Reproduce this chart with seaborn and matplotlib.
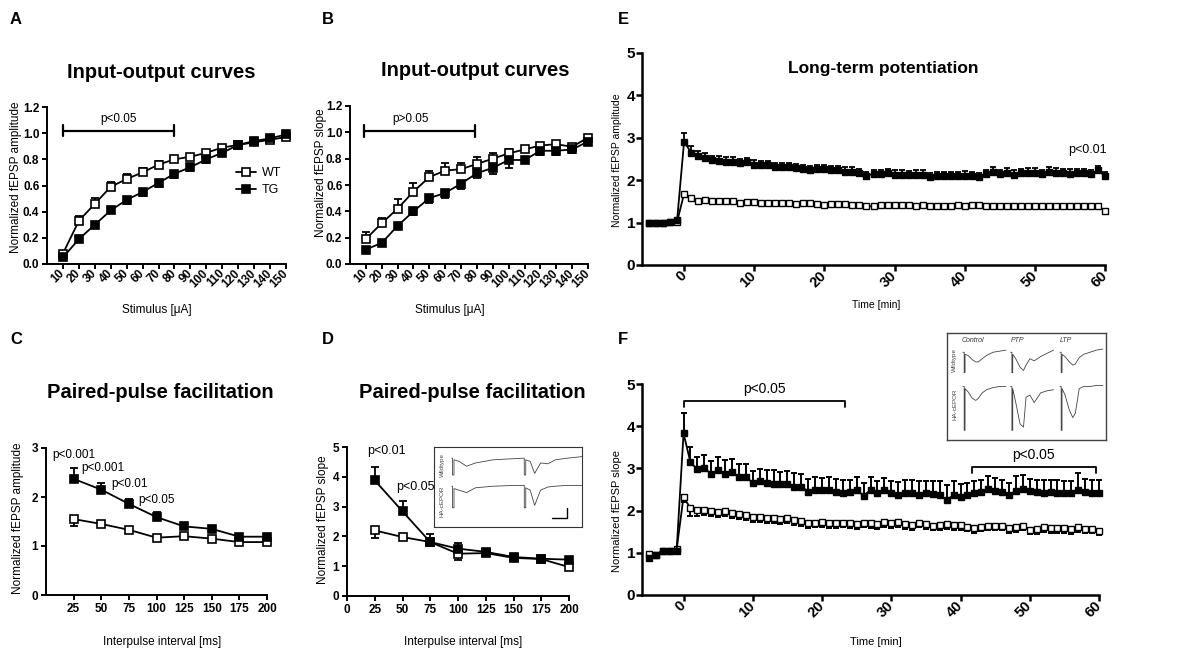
import matplotlib
matplotlib.use("Agg")
import matplotlib.pyplot as plt
import seaborn as sns

# ---------------- data ----------------
stimulus = [10, 20, 30, 40, 50, 60, 70, 80, 90, 100, 110, 120, 130, 140, 150]
a_wt = [0.08, 0.33, 0.46, 0.59, 0.65, 0.70, 0.76, 0.80, 0.82, 0.85, 0.89, 0.91, 0.93, 0.95, 0.97]
a_wt_err = [0.02, 0.04, 0.045, 0.04, 0.035, 0.03, 0.025, 0.02, 0.02, 0.02, 0.02, 0.02, 0.02, 0.01, 0.01]
a_tg = [0.05, 0.19, 0.30, 0.41, 0.49, 0.55, 0.62, 0.69, 0.74, 0.80, 0.85, 0.91, 0.94, 0.96, 0.99]
a_tg_err = [0.01, 0.01, 0.01, 0.02, 0.03, 0.03, 0.03, 0.03, 0.03, 0.03, 0.02, 0.02, 0.01, 0.01, 0.01]

b_wt = [0.19, 0.31, 0.42, 0.55, 0.66, 0.71, 0.72, 0.76, 0.80, 0.84, 0.87, 0.90, 0.91, 0.89, 0.96]
b_wt_err = [0.05, 0.04, 0.07, 0.065, 0.05, 0.06, 0.05, 0.05, 0.04, 0.03, 0.02, 0.02, 0.02, 0.02, 0.01]
b_tg = [0.11, 0.16, 0.29, 0.40, 0.50, 0.54, 0.61, 0.69, 0.73, 0.79, 0.79, 0.86, 0.86, 0.87, 0.93]
b_tg_err = [0.03, 0.02, 0.02, 0.03, 0.04, 0.04, 0.04, 0.04, 0.05, 0.06, 0.02, 0.03, 0.03, 0.03, 0.02]

interval = [25, 50, 75, 100, 125, 150, 175, 200]
c_tg = [2.37, 2.15, 1.86, 1.59, 1.40, 1.35, 1.19, 1.19]
c_tg_err = [0.23, 0.14, 0.10, 0.10, 0.05, 0.04, 0.03, 0.03]
c_wt = [1.55, 1.45, 1.33, 1.17, 1.20, 1.15, 1.08, 1.08]
c_wt_err = [0.15, 0.04, 0.04, 0.04, 0.03, 0.03, 0.03, 0.03]

d_tg = [3.88, 2.84, 1.81, 1.59, 1.48, 1.31, 1.25, 1.22]
d_tg_err = [0.45, 0.35, 0.27, 0.18, 0.05, 0.05, 0.05, 0.04]
d_wt = [2.20, 1.98, 1.81, 1.42, 1.44, 1.28, 1.24, 0.97]
d_wt_err = [0.25, 0.06, 0.05, 0.20, 0.05, 0.05, 0.04, 0.05]

time_min = list(range(-5, 61))
e_tg = [1.00, 1.00, 1.00, 1.02, 1.05,
        2.91, 2.65, 2.57, 2.52, 2.48, 2.46, 2.44, 2.44, 2.40, 2.42,
        2.36, 2.36, 2.35, 2.30, 2.30, 2.30, 2.28, 2.26, 2.24, 2.26,
        2.26, 2.24, 2.23, 2.20, 2.20, 2.17, 2.11, 2.15, 2.15, 2.17,
        2.13, 2.13, 2.13, 2.13, 2.13, 2.07, 2.10, 2.09, 2.09, 2.10,
        2.10, 2.10, 2.07, 2.15, 2.20, 2.15, 2.18, 2.13, 2.17, 2.18,
        2.17, 2.15, 2.20, 2.18, 2.17, 2.15, 2.17, 2.17, 2.15, 2.23,
        2.10]
e_tg_err = [0.02, 0.02, 0.02, 0.02, 0.03,
            0.20, 0.15, 0.12, 0.11, 0.10, 0.10, 0.11, 0.10, 0.11, 0.10,
            0.11, 0.10, 0.10, 0.11, 0.10, 0.10, 0.10, 0.09, 0.10, 0.10,
            0.09, 0.10, 0.10, 0.10, 0.12, 0.10, 0.09, 0.10, 0.10, 0.09,
            0.10, 0.10, 0.09, 0.10, 0.10, 0.11, 0.10, 0.10, 0.10, 0.10,
            0.11, 0.10, 0.11, 0.10, 0.12, 0.10, 0.10, 0.10, 0.10, 0.10,
            0.11, 0.10, 0.11, 0.10, 0.10, 0.11, 0.10, 0.10, 0.10, 0.11,
            0.10]
e_wt = [1.00, 1.00, 1.00, 1.02, 1.02,
        1.68, 1.58, 1.51, 1.54, 1.50, 1.50, 1.51, 1.50, 1.47, 1.49,
        1.48, 1.46, 1.46, 1.46, 1.46, 1.46, 1.44, 1.46, 1.46, 1.44,
        1.42, 1.43, 1.44, 1.44, 1.42, 1.42, 1.38, 1.39, 1.42, 1.41,
        1.41, 1.41, 1.41, 1.40, 1.41, 1.40, 1.40, 1.40, 1.40, 1.41,
        1.40, 1.41, 1.42, 1.40, 1.40, 1.40, 1.39, 1.40, 1.40, 1.40,
        1.39, 1.39, 1.40, 1.39, 1.39, 1.38, 1.38, 1.38, 1.39, 1.39,
        1.27]
e_wt_err = [0.02, 0.02, 0.02, 0.02, 0.02,
            0.05, 0.05, 0.04, 0.04, 0.04, 0.04, 0.04, 0.04, 0.04, 0.04,
            0.04, 0.04, 0.04, 0.04, 0.03, 0.04, 0.04, 0.04, 0.04, 0.04,
            0.04, 0.04, 0.04, 0.04, 0.04, 0.04, 0.05, 0.04, 0.04, 0.04,
            0.04, 0.04, 0.04, 0.04, 0.03, 0.04, 0.04, 0.04, 0.04, 0.04,
            0.04, 0.04, 0.04, 0.04, 0.04, 0.04, 0.04, 0.03, 0.04, 0.04,
            0.04, 0.04, 0.04, 0.04, 0.04, 0.04, 0.04, 0.04, 0.04, 0.04,
            0.05]

f_tg = [0.88, 0.95, 1.05, 1.05, 1.05,
        3.83, 3.14, 2.98, 3.00, 2.87, 2.96, 2.87, 2.92, 2.80, 2.79,
        2.66, 2.69, 2.66, 2.64, 2.62, 2.64, 2.57, 2.57, 2.45, 2.49,
        2.49, 2.49, 2.43, 2.41, 2.43, 2.49, 2.35, 2.49, 2.41, 2.49,
        2.41, 2.37, 2.42, 2.41, 2.37, 2.41, 2.40, 2.37, 2.25, 2.37,
        2.33, 2.37, 2.41, 2.43, 2.51, 2.47, 2.43, 2.37, 2.47, 2.51,
        2.47, 2.43, 2.42, 2.43, 2.41, 2.41, 2.41, 2.49, 2.43, 2.42,
        2.42]
f_tg_err = [0.03, 0.03, 0.03, 0.03, 0.03,
            0.48, 0.37, 0.28, 0.31, 0.30, 0.30, 0.32, 0.30, 0.30, 0.31,
            0.28, 0.30, 0.31, 0.32, 0.30, 0.30, 0.33, 0.30, 0.31, 0.30,
            0.29, 0.30, 0.33, 0.31, 0.30, 0.30, 0.31, 0.30, 0.30, 0.29,
            0.30, 0.31, 0.30, 0.31, 0.32, 0.30, 0.31, 0.32, 0.36, 0.33,
            0.30, 0.29, 0.30, 0.30, 0.32, 0.31, 0.30, 0.29, 0.35, 0.33,
            0.29, 0.30, 0.31, 0.30, 0.31, 0.30, 0.30, 0.39, 0.31, 0.30,
            0.30]
f_wt = [0.97, 0.95, 1.05, 1.05, 1.08,
        2.33, 2.05, 2.01, 2.01, 2.00, 1.97, 2.00, 1.95, 1.91, 1.89,
        1.86, 1.84, 1.82, 1.82, 1.80, 1.82, 1.78, 1.75, 1.71, 1.71,
        1.73, 1.70, 1.71, 1.71, 1.70, 1.68, 1.71, 1.70, 1.68, 1.73,
        1.70, 1.73, 1.68, 1.66, 1.71, 1.68, 1.64, 1.66, 1.68, 1.66,
        1.66, 1.62, 1.58, 1.62, 1.64, 1.64, 1.64, 1.58, 1.60, 1.64,
        1.54, 1.56, 1.60, 1.58, 1.58, 1.58, 1.56, 1.60, 1.56, 1.56,
        1.52]
f_wt_err = [0.05, 0.05, 0.05, 0.05, 0.05,
            0.13, 0.17, 0.13, 0.12, 0.12, 0.13, 0.12, 0.12, 0.12, 0.12,
            0.12, 0.11, 0.12, 0.12, 0.12, 0.12, 0.11, 0.12, 0.12, 0.11,
            0.12, 0.11, 0.12, 0.11, 0.12, 0.12, 0.11, 0.12, 0.11, 0.12,
            0.11, 0.12, 0.11, 0.12, 0.11, 0.11, 0.11, 0.12, 0.11, 0.11,
            0.11, 0.11, 0.11, 0.11, 0.10, 0.11, 0.11, 0.11, 0.11, 0.11,
            0.10, 0.11, 0.10, 0.11, 0.10, 0.10, 0.11, 0.10, 0.10, 0.10,
            0.10]

# significance annotations: (start, end, height)
a_sig = (10, 80, 1.02)
b_sig = (9, 78.5, 1.01)
f_sig = [(0, 23.3, 4.60), (41.7, 59.5, 3.03)]

# example traces for the insets (D: paired pulse, F: control / PTP / LTP)
d_trace_x = [0.12, 0.125, 0.125, 0.135, 0.135, 0.17, 0.22, 0.28, 0.40, 0.55, 0.605,
             0.61, 0.61, 0.62, 0.62, 0.65, 0.68, 0.72, 0.77, 0.82, 0.90, 1.0]
d_trace_wt = [0.86, 0.86, 0.65, 0.65, 0.84, 0.82, 0.76, 0.80, 0.84, 0.855, 0.86,
              0.86, 0.65, 0.65, 0.84, 0.82, 0.67, 0.80, 0.79, 0.84, 0.86, 0.88]
d_trace_ha = [0.51, 0.51, 0.24, 0.24, 0.48, 0.46, 0.43, 0.49, 0.51, 0.52, 0.52,
              0.52, 0.24, 0.24, 0.49, 0.46, 0.27, 0.46, 0.50, 0.51, 0.52, 0.52]
d_scale_x = [0.80, 0.90, 0.90]
d_scale_y = [0.11, 0.11, 0.24]

f_trace_t = [0.0, 0.03, 0.03, 0.05, 0.05, 0.12, 0.22, 0.30, 0.36, 0.45, 0.55, 0.70, 0.85, 1.0]
f_traces_wt = {
    "Control": [0, 0, -0.19, -0.19, -0.02, -0.03, -0.07, -0.09, -0.09, -0.06, -0.03, 0.0, 0.01, 0.02],
    "PTP": [0, 0, -0.19, -0.19, -0.02, -0.06, -0.14, -0.17, -0.12, -0.06, -0.08, -0.04, -0.01, 0.02],
    "LTP": [0, 0, -0.19, -0.19, -0.02, -0.04, -0.09, -0.12, -0.11, -0.05, -0.02, 0.0, 0.02, 0.03],
}
f_traces_ha = {
    "Control": [0, 0, -0.41, -0.41, -0.02, -0.05, -0.11, -0.13, -0.11, -0.06, -0.03, -0.01, 0.0, 0.0],
    "PTP": [0, 0, -0.41, -0.41, -0.02, -0.15, -0.35, -0.38, -0.10, -0.08, -0.15, -0.06, -0.04, -0.03],
    "LTP": [0, 0, -0.41, -0.41, -0.02, -0.08, -0.22, -0.29, -0.25, -0.02, 0.0, 0.0, 0.01, 0.01],
}

# ---------------- style ----------------
sns.set_theme(style="ticks", rc={
    "text.color": "black", "axes.labelcolor": "black", "axes.edgecolor": "black",
    "xtick.color": "black", "ytick.color": "black",
})
plt.rcParams["font.family"] = ["Liberation Sans", "DejaVu Sans"]

W, H = 1200, 661
fig = plt.figure(figsize=(12, 6.61), dpi=100)


def rect(l, t, r, b):
    return [l / W, 1 - b / H, (r - l) / W, (b - t) / H]


def ftext(px, py, s, **kw):
    fig.text(px / W, 1 - py / H, s, **kw)


def draw_series(ax, x, y, err, face, up, ms, mew, lw, cap, elw, label=None):
    zeros = [0] * len(err)
    yerr = [zeros, err] if up else [err, zeros]
    ax.errorbar(x, y, yerr=yerr, fmt="none", ecolor="black", elinewidth=elw,
                capsize=cap, capthick=elw, clip_on=False, zorder=2)
    sns.lineplot(x=x, y=y, ax=ax, color="black", linewidth=lw, marker="s",
                 markersize=ms, markerfacecolor=face, markeredgecolor="black",
                 markeredgewidth=mew, clip_on=False, zorder=3, label=label)


def style_axes(ax, xlim, ylim, xticks, xlabels, yticks, ylabels, spine_w, tick_len,
               xsize, ysize, rot, ypad=2):
    ax.set_xlim(*xlim)
    ax.set_ylim(*ylim)
    sns.despine(ax=ax)
    for s in ["left", "bottom"]:
        ax.spines[s].set_linewidth(spine_w)
    ax.tick_params(width=spine_w, length=tick_len, direction="out", pad=2)
    ax.tick_params(axis="y", pad=ypad)
    if rot:
        ax.set_xticks(xticks, labels=xlabels, fontsize=xsize, fontweight="bold",
                      rotation=45, ha="right", rotation_mode="anchor", va="center")
    else:
        ax.set_xticks(xticks, labels=xlabels, fontsize=xsize, fontweight="bold")
    ax.set_yticks(yticks, labels=ylabels, fontsize=ysize, fontweight="bold")
    ax.set_xlabel("")
    ax.set_ylabel("")
    if ax.get_legend() is not None:
        ax.get_legend().remove()


def set_labels(ax, box, xlab, xpos, ylab, ypos, size):
    l, t, r, b = box
    ax.set_xlabel(xlab, fontsize=size, va="center")
    ax.xaxis.set_label_coords((xpos[0] - l) / (r - l), (b - xpos[1]) / (b - t))
    ax.set_ylabel(ylab, fontsize=size, va="center")
    ax.yaxis.set_label_coords((ypos[0] - l) / (r - l), (b - ypos[1]) / (b - t))


def sig_bar(ax, x0, x1, y, d):
    ax.plot([x0, x1], [y, y], color="black", lw=1.6, clip_on=False)
    ax.plot([x0, x0], [y - d, y + d], color="black", lw=1.6, clip_on=False)
    ax.plot([x1, x1], [y - d, y + d], color="black", lw=1.6, clip_on=False)


# ---------------- panel A ----------------
box_a = (47, 107, 286, 264)
ax_a = fig.add_axes(rect(*box_a))
draw_series(ax_a, stimulus, a_wt, a_wt_err, "white", True, 5.5, 1.2, 1.3, 3, 1.3, label="WT")
draw_series(ax_a, stimulus, a_tg, a_tg_err, "black", False, 5.5, 1.2, 1.3, 3, 1.3, label="TG")
style_axes(ax_a, (0, 150), (0, 1.2), stimulus, [str(v) for v in stimulus],
           [0, 0.2, 0.4, 0.6, 0.8, 1.0, 1.2], ["0.0", "0.2", "0.4", "0.6", "0.8", "1.0", "1.2"],
           1.4, 3.5, 8.5, 8.5, True)
sig_bar(ax_a, a_sig[0], a_sig[1], a_sig[2], 0.045)
ax_a.text(45, 1.11, "p<0.05", fontsize=8.5, ha="center", va="center")
handles = [ln for ln in ax_a.lines if ln.get_label() in ("WT", "TG")]
ax_a.legend(handles=handles, labels=["WT", "TG"], loc="center left", bbox_to_anchor=(0.79, 0.525),
            frameon=False, fontsize=9, handlelength=1.6, handletextpad=0.5,
            borderpad=0, borderaxespad=0, labelspacing=0.4)
set_labels(ax_a, box_a, "Stimulus [μA]", (157, 310), "Normalized fEPSP amplitude", (16, 177), 8.5)

# ---------------- panel B ----------------
box_b = (350, 106, 588, 264)
ax_b = fig.add_axes(rect(*box_b))
draw_series(ax_b, stimulus, b_wt, b_wt_err, "white", True, 5.5, 1.2, 1.3, 3, 1.3)
draw_series(ax_b, stimulus, b_tg, b_tg_err, "black", False, 5.5, 1.2, 1.3, 3, 1.3)
style_axes(ax_b, (0, 150), (0, 1.2), stimulus, [str(v) for v in stimulus],
           [0, 0.2, 0.4, 0.6, 0.8, 1.0, 1.2], ["0.0", "0.2", "0.4", "0.6", "0.8", "1.0", "1.2"],
           1.4, 3.5, 8.5, 8.5, True)
sig_bar(ax_b, b_sig[0], b_sig[1], b_sig[2], 0.045)
ax_b.text(38, 1.10, "p>0.05", fontsize=8.5, ha="center", va="center")
set_labels(ax_b, box_b, "Stimulus [μA]", (450, 310), "Normalized fEPSP slope", (321, 173), 8.5)

# ---------------- panel C ----------------
box_c = (46, 448, 267, 595)
ax_c = fig.add_axes(rect(*box_c))
draw_series(ax_c, interval, c_wt, c_wt_err, "white", False, 6, 1.2, 1.3, 3, 1.3)
draw_series(ax_c, interval, c_tg, c_tg_err, "black", True, 6, 1.2, 1.3, 3, 1.3)
style_axes(ax_c, (0, 200), (0, 3), interval, [str(v) for v in interval],
           [0, 1, 2, 3], ["0", "1", "2", "3"], 1.4, 3.5, 8.5, 8.5, False)
for s, x, y in [("p<0.001", 5.4, 2.86), ("p<0.001", 31.7, 2.59),
                ("p<0.01", 58.8, 2.27), ("p<0.05", 83.3, 1.94)]:
    ax_c.text(x, y, s, fontsize=8.5, ha="left", va="center")
set_labels(ax_c, box_c, "Interpulse interval [ms]", (162, 642),
           "Normalized fEPSP amplitude", (18, 518), 8.5)

# ---------------- panel D ----------------
box_d = (347, 447, 569, 596)
ax_d = fig.add_axes(rect(*box_d))
draw_series(ax_d, interval, d_wt, d_wt_err, "white", False, 6, 1.2, 1.3, 3, 1.3)
draw_series(ax_d, interval, d_tg, d_tg_err, "black", True, 6, 1.2, 1.3, 3, 1.3)
d_xt = [0] + interval
style_axes(ax_d, (0, 200), (0, 5), d_xt, [str(v) for v in d_xt],
           [0, 1, 2, 3, 4, 5], ["0", "1", "2", "3", "4", "5"], 1.4, 3.5, 8.5, 8.5, False)
ax_d.text(18, 4.88, "p<0.01", fontsize=9, ha="left", va="center")
ax_d.text(44, 3.66, "p<0.05", fontsize=9, ha="left", va="center")
set_labels(ax_d, box_d, "Interpulse interval [ms]", (463, 642),
           "Normalized fEPSP slope", (323, 520), 8.5)

ins_d = fig.add_axes(rect(434, 447, 582, 527))
ins_d.set_xlim(0, 1)
ins_d.set_ylim(0, 1)
ins_d.set_xticks([])
ins_d.set_yticks([])
for s in ins_d.spines.values():
    s.set_linewidth(0.8)
    s.set_color("#333333")
ins_d.plot(d_trace_x, d_trace_wt, color="#444444", lw=0.6)
ins_d.plot(d_trace_x, d_trace_ha, color="#444444", lw=0.6)
ins_d.plot(d_scale_x, d_scale_y, color="black", lw=1.0)
ins_d.text(0.054, 0.775, "Wildtype", rotation=90, fontsize=4.5, ha="center", va="center", color="#444444")
ins_d.text(0.054, 0.325, "HA-cEPOR", rotation=90, fontsize=4.5, ha="center", va="center", color="#444444")

# ---------------- panel E ----------------
box_e = (642, 53, 1105, 265)
ax_e = fig.add_axes(rect(*box_e))
draw_series(ax_e, time_min, e_wt, e_wt_err, "white", False, 4, 1.0, 1.3, 2.5, 1.3)
draw_series(ax_e, time_min, e_tg, e_tg_err, "black", True, 4, 1.0, 1.3, 2.5, 1.3)
e_xt = [0, 10, 20, 30, 40, 50, 60]
style_axes(ax_e, (-6, 60), (0, 5), e_xt, [str(v) for v in e_xt],
           [0, 1, 2, 3, 4, 5], ["0", "1", "2", "3", "4", "5"], 1.8, 4, 10.5, 11, True, ypad=1)
ax_e.text(60.3, 2.71, "p<0.01", fontsize=9, ha="right", va="center")
set_labels(ax_e, box_e, "Time [min]", (876, 305), "Normalized fEPSP amplitude", (617, 160), 7.5)

# ---------------- panel F ----------------
box_f = (642, 384, 1099, 595)
ax_f = fig.add_axes(rect(*box_f))
draw_series(ax_f, time_min, f_wt, f_wt_err, "white", False, 4, 1.0, 1.3, 2.5, 1.4)
draw_series(ax_f, time_min, f_tg, f_tg_err, "black", True, 4, 1.0, 1.3, 2.5, 1.4)
style_axes(ax_f, (-6, 60), (0, 5), e_xt, [str(v) for v in e_xt],
           [0, 1, 2, 3, 4, 5], ["0", "1", "2", "3", "4", "5"], 1.8, 4, 10.5, 11, True, ypad=1)
for x0, x1, y in f_sig:
    ax_f.plot([x0, x0, x1, x1], [y - 0.15, y, y, y - 0.15], color="black", lw=1.3, clip_on=False)
    ax_f.text((x0 + x1) / 2, y + 0.28, "p<0.05", fontsize=10, ha="center", va="center")
set_labels(ax_f, box_f, "Time [min]", (876, 642), "Normalized fEPSP slope", (617, 511), 8)

ins_f = fig.add_axes(rect(947, 333, 1106, 440))
ins_f.set_xlim(0, 1)
ins_f.set_ylim(0, 1)
ins_f.set_xticks([])
ins_f.set_yticks([])
for s in ins_f.spines.values():
    s.set_linewidth(1.0)
    s.set_color("#444444")
col_x = {"Control": 0.10, "PTP": 0.40, "LTP": 0.71}
for name, x0 in col_x.items():
    for base, traces in [(0.82, f_traces_wt), (0.50, f_traces_ha)]:
        ins_f.plot([x0 + 0.27 * t for t in f_trace_t], [base + v for v in traces[name]],
                   color="#444444", lw=0.6)
    ins_f.text(x0 - 0.01 if name == "Control" else x0, 0.93, name, fontsize=5, style="italic",
               ha="left", va="center", color="#333333")
ins_f.text(0.05, 0.75, "Wildtype", rotation=90, fontsize=4.5, ha="center", va="center", color="#444444")
ins_f.text(0.05, 0.33, "HA-cEPOR", rotation=90, fontsize=4.5, ha="center", va="center", color="#444444")

# ---------------- titles and panel letters ----------------
ftext(161, 72, "Input-output curves", fontsize=14.5, fontweight="bold", ha="center", va="center")
ftext(475, 70, "Input-output curves", fontsize=14.5, fontweight="bold", ha="center", va="center")
ftext(160, 393, "Paired-pulse facilitation", fontsize=14.5, fontweight="bold", ha="center", va="center")
ftext(472, 392, "Paired-pulse facilitation", fontsize=14.5, fontweight="bold", ha="center", va="center")
ftext(883, 68, "Long-term potentiation", fontsize=12.5, fontweight="bold", ha="center", va="center")
for letter, px, py in [("A", 10, 19), ("B", 322, 19), ("C", 10, 339),
                       ("D", 322, 339), ("E", 618, 19), ("F", 618, 339)]:
    ftext(px, py, letter, fontsize=12, fontweight="bold", ha="left", va="center")

fig.savefig("out.png", dpi=100, facecolor="white")
